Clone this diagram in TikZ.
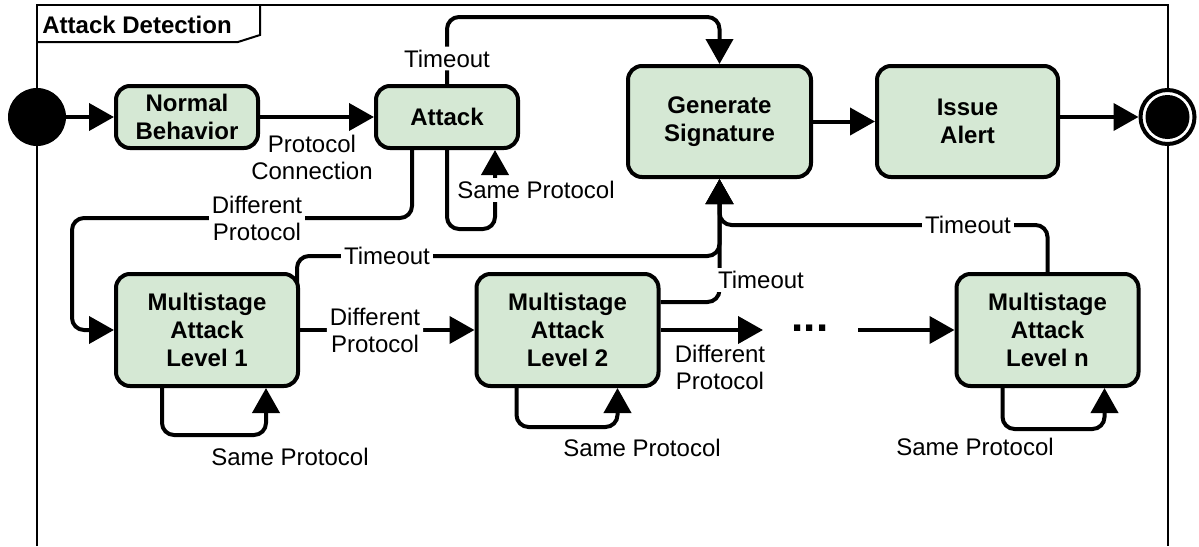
\documentclass[tikz,border=0pt]{standalone}
\usepackage{fontspec}
\setmainfont{Liberation Sans}
\usetikzlibrary{arrows.meta,backgrounds}
\definecolor{stfill}{HTML}{D5E8D4}
\begin{document}
\begin{tikzpicture}[x=0.5pt,y=-0.5pt,
  every node/.style={font=\fontsize{12}{13.5}\selectfont},
  state/.style={draw=black, line width=2pt, fill=stfill, rounded corners=7pt, align=center,
    font=\fontsize{12}{14}\selectfont\bfseries, inner sep=0pt},
  conn/.style={draw=black, line width=2pt, rounded corners=6pt, -{Triangle[length=12.5pt,width=13.5pt]}},
  lbl/.style={fill=white, inner sep=1.5pt, align=center, font=\fontsize{12}{13.5}\selectfont},
  lblnf/.style={inner sep=1pt, align=center, font=\fontsize{12}{13.5}\selectfont},
  frame/.style={draw=black, line width=1pt}]
\useasboundingbox (0,0) rectangle (1199,546);
% frame
\draw[frame] (37,546) -- (37,5) -- (1168,5) -- (1168,546);
\draw[frame] (37,42) -- (238,42) -- (260,35) -- (260,5);
\node[anchor=base west, font=\fontsize{12}{14}\selectfont\bfseries, inner sep=0pt] (title) at (42,33) {Attack Detection};
% states
\node[circle, fill=black, minimum size=29pt, inner sep=0pt] (init) at (37,117) {};
\node[state, minimum width=71pt, minimum height=31pt] (nb) at (187,117) {Normal\\Behavior};
\node[state, minimum width=71pt, minimum height=31pt] (att) at (447,117) {Attack};
\node[state, minimum width=91.5pt, minimum height=55.5pt] (gen) at (719.5,121.5) {Generate\\Signature};
\node[state, minimum width=90.5pt, minimum height=55.5pt] (iss) at (967.5,121.5) {Issue\\Alert};
\node[circle, draw=black, line width=2pt, fill=white, minimum size=27pt, inner sep=0pt,
  path picture={\fill[black] (path picture bounding box.center) circle (11pt);}] (fin) at (1167.5,117) {};
\node[state, minimum width=91pt, minimum height=56pt] (m1) at (207,330) {Multistage\\Attack\\Level 1};
\node[state, minimum width=91pt, minimum height=56pt] (m2) at (567.5,330) {Multistage\\Attack\\Level 2};
\node[state, minimum width=91pt, minimum height=56pt] (mn) at (1047.5,330) {Multistage\\Attack\\Level n};
\node[anchor=base, font=\fontsize{22}{22}\selectfont\bfseries, inner sep=0pt] (dots) at (810,331) {...};
\coordinate (ytop) at (0,17);
\coordinate (dpc) at (72,218);
\coordinate (t1) at (297,256);
\coordinate (t3) at (0,225);
\coordinate (d1) at (763,330);
\coordinate (d2) at (858,330);
\begin{scope}[on background layer]
\draw[conn] (init) -- (nb);
\draw[conn] (nb) -- (att);
\node[lblnf] (pc) at (312,157) {Protocol\\Connection};
% attack timeout
\draw[conn] (att.north) -- node[lbl,pos=0.38] (to0) {Timeout} (att.north |- ytop) -| (gen.north);
% attack self loop
\draw[conn] (att.south) -- ++(0,79) -| ([shift={(48,0)}]att.south);
\node[lbl] (spa) at (536,190) {Same Protocol};
% attack -> level 1
\draw[conn] ([shift={(-35,0)}]att.south) |- (dpc) |- (m1.west);
\node[lbl] (dpa) at (257,218) {Different\\Protocol};
% timeouts to generate
\draw[conn] (t1 |- m1.center) -- (t1) -| (gen.south);
\node[lbl] (to1) at (387,256) {Timeout};
\draw[conn] ([shift={(0,-28)}]m2.east) -| (gen.south);
\node[lbl] (to2) at (761,280) {Timeout};
\draw[conn] (mn.north) -- (mn.north |- t3) -| (gen.south);
\node[lbl] (to3) at (968,225) {Timeout};
% main chain
\draw[conn] (gen) -- (iss);
\draw[conn] (iss.east |- fin) -- (fin);
\draw[conn] (m1) -- node[lbl,pos=0.43] (dp1) {Different\\Protocol} (m2);
\draw[conn] (m2) -- (d1);
\node[lblnf] (dp2) at (720,367) {Different\\Protocol};
\draw[conn] (d2) -- (mn);
% self loops
\draw[conn] ([shift={(-45,0)}]m1.south) -- ++(0,47) -| ([shift={(59,0)}]m1.south);
\node[lblnf] (sp1) at (290,457) {Same Protocol};
\draw[conn] ([shift={(-51,0)}]m2.south) -- ++(0,39) -| ([shift={(50,0)}]m2.south);
\node[lblnf] (sp2) at (642,448) {Same Protocol};
\draw[conn] ([shift={(-45,0)}]mn.south) -- ++(0,41) -| ([shift={(57,0)}]mn.south);
\node[lblnf] (spn) at (975,447) {Same Protocol};
\end{scope}
\end{tikzpicture}
\end{document}
